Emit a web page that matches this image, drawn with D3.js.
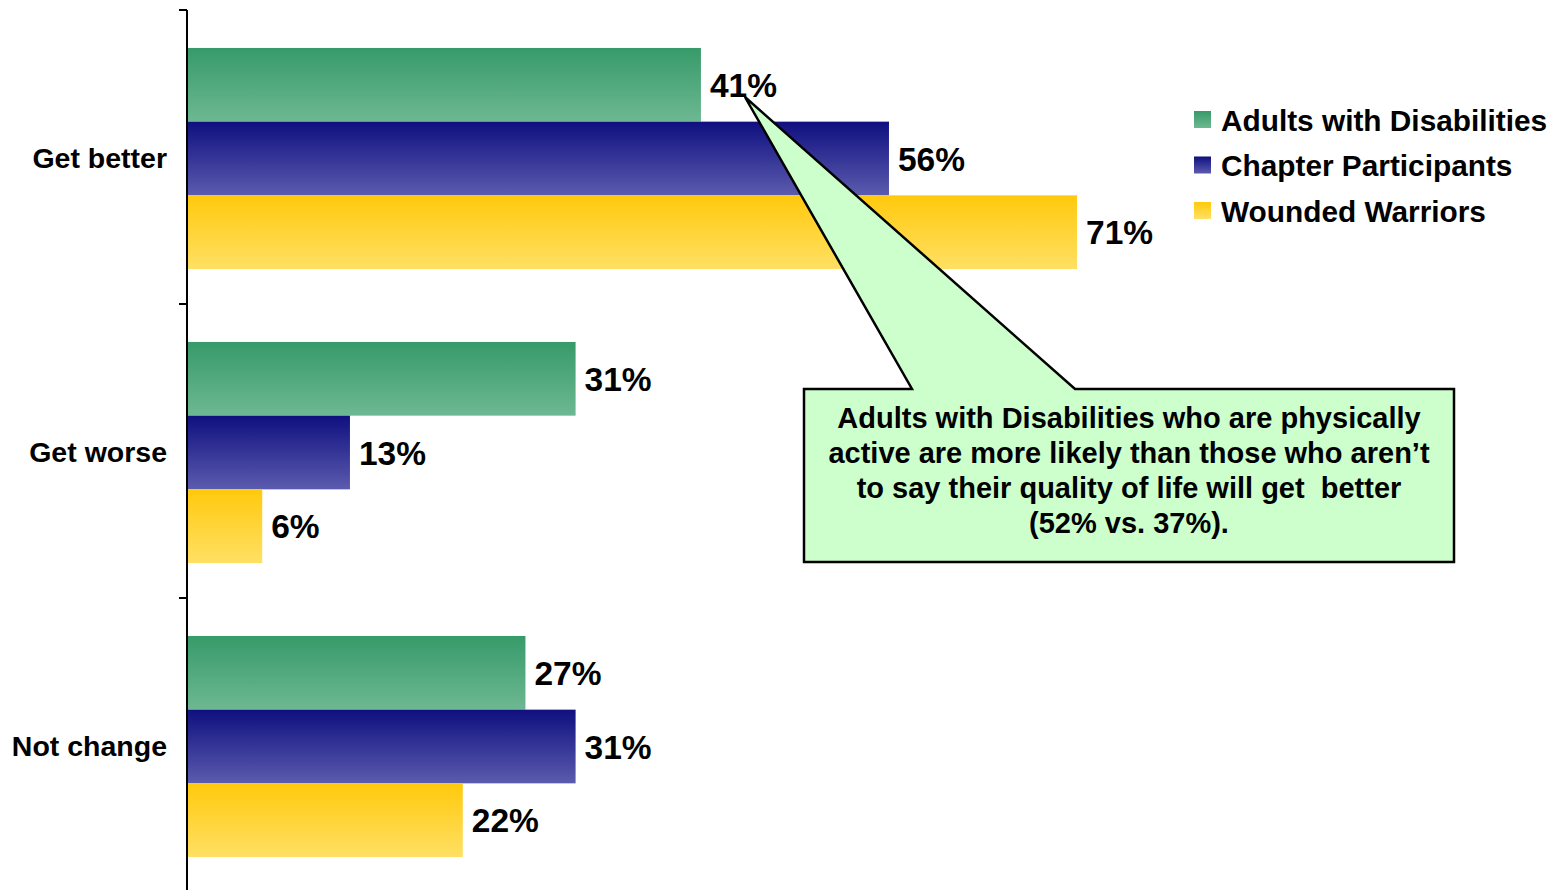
<!DOCTYPE html>
<html>
<head>
<meta charset="utf-8">
<script src="https://cdn.jsdelivr.net/npm/d3@7"></script>
<style>
  html, body { margin: 0; padding: 0; background: #fff; }
  svg { display: block; font-family: "Liberation Sans", Arial, sans-serif; font-weight: bold; }
  .callout-text { white-space: pre; }
</style>
</head>
<body>
<svg id="chart" width="1554" height="890"></svg>
<script>
// Outlook on quality of life, by group (percent)
const categories = ["Get better", "Get worse", "Not change"];
const seriesNames = ["Adults with Disabilities", "Chapter Participants", "Wounded Warriors"];
const adultsWithDisabilities = [41, 31, 27];
const chapterParticipants = [56, 13, 31];
const woundedWarriors = [71, 6, 22];
const seriesValues = [adultsWithDisabilities, chapterParticipants, woundedWarriors];
const calloutLines = [
  "Adults with Disabilities who are physically",
  "active are more likely than those who aren\u2019t",
  "to say their quality of life will get  better",
  "(52% vs. 37%)."
];

const svg = d3.select("#chart");
const axisX = 187, plotTop = 10, plotBottom = 890, bandStep = 294;

// Vertical gradients for each series (darker at top, lighter at bottom)
const gradStops = [
  ["#379a69", "#6db892"],
  ["#0f0f80", "#5b5bae"],
  ["#ffc90c", "#ffe064"]
];
const defs = svg.append("defs");
gradStops.forEach((s, i) => {
  const g = defs.append("linearGradient").attr("id", "grad" + i)
    .attr("x1", 0).attr("y1", 0).attr("x2", 0).attr("y2", 1);
  g.append("stop").attr("offset", "0%").attr("stop-color", s[0]);
  g.append("stop").attr("offset", "100%").attr("stop-color", s[1]);
});

const x = d3.scaleLinear().domain([0, 71]).range([axisX, 1077]);
const y0 = d3.scaleBand().domain(categories).range([plotTop + 1.5, plotTop + 1.5 + bandStep * 3])
  .paddingInner(0.248).paddingOuter(0.124);
const y1 = d3.scaleBand().domain(d3.range(3)).range([0, y0.bandwidth()]);

// Category axis
const yAxis = d3.axisLeft(y0).tickSize(0).tickPadding(20).tickFormat(d => d);
const axisG = svg.append("g").attr("transform", `translate(${axisX},0)`).call(yAxis);
axisG.select(".domain").remove();
axisG.selectAll("text")
  .attr("font-size", 28.5).attr("font-weight", "bold").attr("fill", "#000")
  .attr("font-family", "Liberation Sans, Arial, sans-serif");

// Category boundary ticks and axis line
const boundaries = d3.range(4).map(i => plotTop + i * bandStep);
svg.append("g").selectAll("line").data(boundaries).join("line")
  .attr("x1", axisX - 8).attr("x2", axisX).attr("y1", d => d).attr("y2", d => d)
  .attr("stroke", "#000").attr("stroke-width", 2);
svg.append("line").attr("x1", axisX).attr("x2", axisX).attr("y1", plotTop).attr("y2", plotBottom)
  .attr("stroke", "#000").attr("stroke-width", 2);

// Bars
const groups = svg.append("g").selectAll("g").data(categories).join("g")
  .attr("transform", d => `translate(0,${y0(d)})`);

const rowData = (c, ci) => seriesValues.map((s, si) => ({ si, v: s[ci] }));

groups.selectAll("rect").data(rowData).join("rect")
  .attr("x", x(0) + 1)
  .attr("y", d => y1(d.si))
  .attr("width", d => x(d.v) - x(0) - 1)
  .attr("height", y1.bandwidth())
  .attr("fill", d => `url(#grad${d.si})`);

groups.selectAll("text.val").data(rowData).join("text")
  .attr("class", "val")
  .attr("x", d => x(d.v) + 9)
  .attr("y", d => y1(d.si) + y1.bandwidth() / 2)
  .attr("dy", "0.36em")
  .attr("font-size", 33.5)
  .attr("fill", "#000")
  .text(d => d.v + "%");

// Legend
const legend = svg.append("g").attr("transform", "translate(1194,120)");
seriesNames.forEach((name, i) => {
  const row = legend.append("g").attr("transform", `translate(0,${i * 45.5})`);
  row.append("rect").attr("x", 0).attr("y", -9).attr("width", 17).attr("height", 17)
    .attr("fill", `url(#grad${i})`);
  row.append("text").attr("x", 27).attr("y", 0).attr("dy", "0.36em")
    .attr("font-size", 29.8).attr("fill", "#000").text(name);
});

// Callout box with pointer toward the top green bar's label
const tip = [x(41) + 44, 97];
const box = { x0: 804, y0: 389, x1: 1454, y1: 562 };
const pathD = [
  [box.x0, box.y0], [912, box.y0], tip, [1075, box.y0], [box.x1, box.y0],
  [box.x1, box.y1], [box.x0, box.y1]
];
svg.append("path")
  .attr("d", d3.line()(pathD) + "Z")
  .attr("fill", "#ccffcc")
  .attr("stroke", "#000")
  .attr("stroke-width", 2.5)
  .attr("stroke-linejoin", "miter");

svg.append("g").selectAll("text").data(calloutLines).join("text")
  .attr("class", "callout-text")
  .attr("x", (box.x0 + box.x1) / 2)
  .attr("y", (d, i) => 418 + i * 35)
  .attr("dy", "0.36em")
  .attr("text-anchor", "middle")
  .attr("font-size", 29)
  .attr("fill", "#000")
  .text(d => d);
</script>
</body>
</html>
